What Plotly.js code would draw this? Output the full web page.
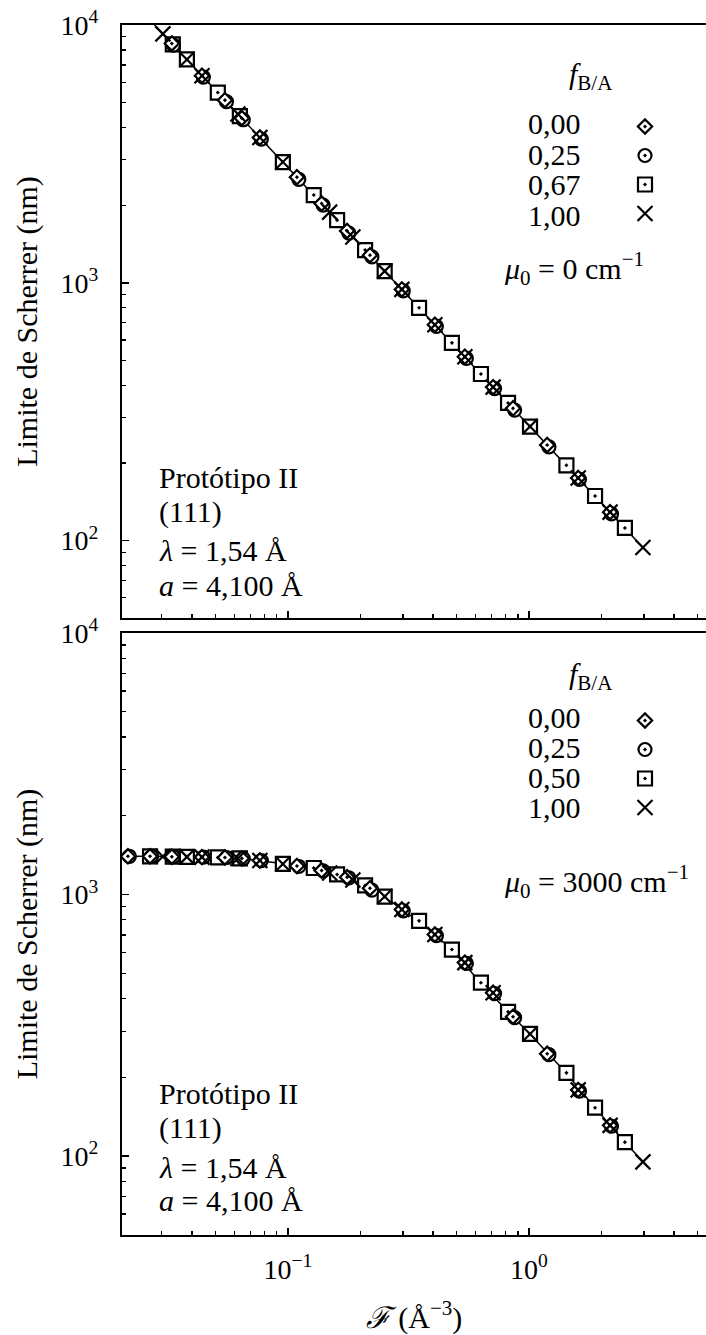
<!DOCTYPE html>
<html><head><meta charset="utf-8">
<script src="https://cdn.plot.ly/plotly-3.0.1.min.js"></script>
<style>html,body{margin:0;padding:0;overflow:hidden;background:#fff}</style>
</head><body><div id="chart" style="width:706px;height:1335px"></div>
<script>
// ---------- data ----------
// Top panel: mu0 = 0 cm^-1
const topF_d = [0.0330, 0.0440, 0.0548, 0.0644, 0.0765, 0.109, 0.138, 0.176, 0.219, 0.297, 0.407, 0.542, 0.710, 0.859, 1.19, 1.60, 2.17];
const topY_d = [8480, 6360, 5110, 4350, 3660, 2570, 2030, 1590, 1280, 943, 688, 517, 394, 326, 235, 175, 129];
const topF_c = [0.0335, 0.0446, 0.0556, 0.0653, 0.0776, 0.111, 0.140, 0.179, 0.223, 0.301, 0.413, 0.550, 0.720, 0.872, 1.21, 1.62, 2.20];
const topY_c = [8360, 6280, 5040, 4290, 3610, 2520, 2000, 1560, 1260, 930, 678, 509, 389, 321, 231, 173, 127];
const topF_s = [0.0333, 0.0381, 0.0512, 0.0632, 0.0953, 0.128, 0.160, 0.209, 0.252, 0.350, 0.479, 0.632, 0.819, 1.01, 1.43, 1.88, 2.50];
const topY_s = [8410, 7350, 5470, 4430, 2940, 2190, 1750, 1340, 1110, 800, 585, 443, 342, 277, 196, 149, 112];
const topF_x = [0.0303, 0.0381, 0.0440, 0.0620, 0.0765, 0.0953, 0.149, 0.186, 0.252, 0.297, 0.407, 0.542, 0.710, 1.01, 1.60, 2.17, 2.97];
const topY_x = [9240, 7350, 6360, 4520, 3660, 2940, 1880, 1505, 1110, 943, 688, 517, 394, 277, 175, 129, 94];
const topLineF = [0.0205, 2.97];
const topLineY = [13660, 94];

// Bottom panel: mu0 = 3000 cm^-1
const botF_d = [0.0217, 0.0268, 0.0330, 0.0440, 0.0548, 0.0644, 0.0765, 0.109, 0.138, 0.176, 0.219, 0.297, 0.407, 0.542, 0.710, 0.859, 1.19, 1.60, 2.17];
const botY_d = [1400, 1400, 1395, 1390, 1386, 1374, 1350, 1286, 1236, 1165, 1057, 876, 703, 549, 421, 341, 246, 179, 131];
const botF_c = [0.0220, 0.0272, 0.0335, 0.0446, 0.0556, 0.0653, 0.0776, 0.111, 0.140, 0.179, 0.223, 0.301, 0.413, 0.550, 0.720, 0.872, 1.21, 1.62, 2.20];
const botY_c = [1400, 1400, 1395, 1390, 1385, 1372, 1348, 1280, 1232, 1158, 1040, 866, 696, 545, 418, 338, 244, 177, 130];
const botF_s = [0.0268, 0.0333, 0.0381, 0.0512, 0.0632, 0.0953, 0.128, 0.160, 0.209, 0.252, 0.350, 0.479, 0.632, 0.819, 1.01, 1.43, 1.88, 2.50];
const botY_s = [1400, 1395, 1393, 1386, 1374, 1309, 1263, 1193, 1083, 982, 793, 616, 460, 356, 293, 208, 153, 113];
const botF_x = [0.0303, 0.0381, 0.0440, 0.0620, 0.0765, 0.0953, 0.149, 0.186, 0.252, 0.297, 0.407, 0.542, 0.710, 1.01, 1.60, 2.17, 2.97];
const botY_x = [1398, 1393, 1390, 1374, 1350, 1309, 1209, 1137, 982, 876, 703, 549, 421, 293, 179, 131, 95];
const botLineF = [0.0205, 0.0431, 0.0650, 0.0944, 0.1318, 0.1774, 0.2128, 0.2523, 0.2972, 0.3530, 0.4786, 0.6266, 0.8185, 0.9906, 1.425, 1.879, 2.502, 2.972];
const botLineY = [1400, 1398, 1374, 1313, 1250, 1160, 1075, 982, 876, 785, 616, 462, 356, 298, 208, 153, 113, 95];

const legendTitle = '<i>f</i><sub>B/A</sub>';
const labelsTop = ['0,00', '0,25', '0,67', '1,00'];
const labelsBot = ['0,00', '0,25', '0,50', '1,00'];
const xTickVals = [0.1, 1];
const xTickText = ['10<sup>\u22121</sup>', '10<sup>0</sup>'];
const yTickVals = [100, 1000, 10000];
const yTickText = ['10<sup>2</sup>', '10<sup>3</sup>', '10<sup>4</sup>'];
const xMinorVals = [0.03,0.04,0.05,0.06,0.07,0.08,0.09,0.2,0.3,0.4,0.5,0.6,0.7,0.8,0.9,2,3,4,5];
const yMinorVals = [60,70,80,90,200,300,400,500,600,700,800,900,2000,3000,4000,5000,6000,7000,8000,9000];

// ---------- layout helpers ----------
const FONT = 'Liberation Serif, Times New Roman, serif';
const W = 706, H = 1335, ML = 122, MR = 0, MT = 25, MB = 100;
const PW = W - ML - MR, PH = H - MT - MB;
const px = p => (p - ML) / PW;
const py = p => (H - MB - p) / PH;

function markerStyle(symbol, size) {
  if (symbol === 'x-thin') return {symbol: symbol, size: size, color: 'black', line: {color: 'black', width: 2.2}};
  return {symbol: symbol, size: size, color: 'white', line: {color: 'black', width: 2.2}};
}
const SYM = [['diamond-dot', 11], ['circle-dot', 13], ['square-dot', 14], ['x-thin', 15]];

function panelTraces(xa, ya, lg, lineF, lineY, series, labels) {
  const tr = [{x: lineF, y: lineY, xaxis: xa, yaxis: ya, mode: 'lines', line: {color: 'black', width: 1.5}, showlegend: false, hoverinfo: 'skip'}];
  const order = [2, 1, 0, 3];
  order.forEach(i => {
    tr.push({x: series[i][0], y: series[i][1], xaxis: xa, yaxis: ya, mode: 'markers',
      marker: markerStyle(SYM[i][0], SYM[i][1]), name: ' ', legend: lg, legendrank: i + 1, showlegend: true,
      hovertext: labels[i], cliponaxis: true});
  });
  return tr;
}

const data = [].concat(
  panelTraces('x', 'y', 'legend', topLineF, topLineY,
    [[topF_d, topY_d], [topF_c, topY_c], [topF_s, topY_s], [topF_x, topY_x]], labelsTop),
  panelTraces('x2', 'y2', 'legend2', botLineF, botLineY,
    [[botF_d, botY_d], [botF_c, botY_c], [botF_s, botY_s], [botF_x, botY_x]], labelsBot)
);

const tickFont = {family: FONT, size: 28, color: 'black'};
function xAxis(anchor, showLabels) {
  return {type: 'log', anchor: anchor, range: [Math.log10(0.0205), Math.log10(5.425)], domain: [0, 1],
    showline: true, linewidth: 2, linecolor: 'black', mirror: true,
    ticks: 'inside', ticklen: 7, tickwidth: 1.5, tickcolor: 'black',
    tickmode: 'array', tickvals: xTickVals, ticktext: xTickText, showticklabels: showLabels,
    showgrid: false, zeroline: false, tickfont: tickFont, ticklabelstandoff: 8,
    minor: {ticks: 'inside', ticklen: 4, tickwidth: 1.2, tickcolor: 'black', tickmode: 'array', tickvals: xMinorVals, showgrid: false},
    automargin: false};
}
function yAxis(anchor, domain, lo) {
  return {type: 'log', anchor: anchor, domain: domain, range: [lo, 4],
    showline: true, linewidth: 2, linecolor: 'black', mirror: false,
    ticks: 'inside', ticklen: 7, tickwidth: 1.5, tickcolor: 'black',
    tickmode: 'array', tickvals: yTickVals, ticktext: yTickText,
    showgrid: false, zeroline: false, tickfont: tickFont, ticklabelstandoff: 16,
    minor: {ticks: 'inside', ticklen: 4, tickwidth: 1.2, tickcolor: 'black', tickmode: 'array', tickvals: yMinorVals, showgrid: false},
    title: {text: 'Limite de Scherrer (nm)', font: {family: FONT, size: 30, color: 'black'}, standoff: 14},
    automargin: false};
}

function ann(text, x, y, xanchor, size) {
  return {text: text, xref: 'paper', yref: 'paper', x: px(x), y: py(y), xanchor: xanchor || 'left', yanchor: 'middle',
    showarrow: false, font: {family: FONT, size: size || 30, color: 'black'}};
}
const annotations = [];
// info blocks
[[477, 512, 550, 585], [1093, 1128, 1167, 1200]].forEach(ys => {
  annotations.push(ann('Protótipo II', 157, ys[0]));
  annotations.push(ann('(111)', 157, ys[1]));
  annotations.push(ann('<i>λ</i> = 1,54 Å', 157, ys[2]));
  annotations.push(ann('<i>a</i> = 4,100 Å', 157, ys[3]));
});
annotations.push(ann('<i>μ</i><sub>0</sub> = 0 cm<sup>\u22121</sup>', 502, 268));
annotations.push(ann('<i>μ</i><sub>0</sub> = 3000 cm<sup>\u22121</sup>', 502, 882));
annotations.push(ann(legendTitle, 567, 76));
annotations.push(ann(legendTitle, 567, 676));
const rowsTop = [124, 154, 184, 215];
const rowsBot = [717, 747, 777, 807];
labelsTop.forEach((l, i) => annotations.push(ann(l, 583, rowsTop[i], 'right')));
labelsBot.forEach((l, i) => annotations.push(ann(l, 583, rowsBot[i], 'right')));

const legendBase = {xanchor: 'left', yanchor: 'top', bgcolor: 'rgba(0,0,0,0)', borderwidth: 0,
  font: {family: FONT, size: 20, color: 'black'}, tracegroupgap: 0, itemwidth: 30, traceorder: 'normal'};

const layout = {
  width: W, height: H, margin: {l: ML, r: MR, t: MT, b: MB, pad: 0},
  paper_bgcolor: 'white', plot_bgcolor: 'white', showlegend: true,
  font: {family: FONT, color: 'black'},
  xaxis: xAxis('y', false),
  yaxis: yAxis('x', [py(618), 1], 1.70),
  xaxis2: Object.assign(xAxis('y2', true), {title: {text: '<i>ℱ</i> (Å<sup>\u22123</sup>)', font: {family: FONT, size: 30, color: 'black'}, standoff: 23}}),
  yaxis2: yAxis('x2', [0, py(633)], 1.698),
  legend: Object.assign({x: px(625), y: py(107)}, legendBase),
  legend2: Object.assign({x: px(625), y: py(701)}, legendBase),
  annotations: annotations
};

Plotly.newPlot('chart', data, layout, {displayModeBar: false, staticPlot: true});
</script></body></html>
